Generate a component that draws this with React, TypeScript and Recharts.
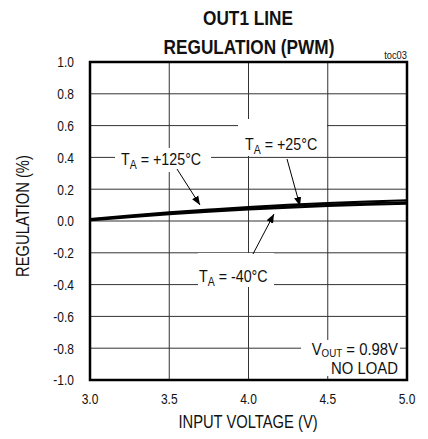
import { CartesianGrid, Line, LineChart, ReferenceArea, XAxis, YAxis } from "recharts";

// input voltage (V)
const voltage = [3.0, 3.25, 3.5, 3.75, 4.0, 4.25, 4.5, 4.75, 5.0];
// line regulation (%) per ambient temperature
const regPlus25 = [0.012, 0.035, 0.055, 0.072, 0.088, 0.102, 0.113, 0.122, 0.13];
const regPlus125 = [0.008, 0.03, 0.05, 0.066, 0.08, 0.093, 0.104, 0.112, 0.118];
const regMinus40 = [0.004, 0.024, 0.042, 0.058, 0.072, 0.084, 0.094, 0.102, 0.108];

const xTicks = [3.0, 3.5, 4.0, 4.5, 5.0];
const yTicks = [-1.0, -0.8, -0.6, -0.4, -0.2, 0.0, 0.2, 0.4, 0.6, 0.8, 1.0];

const data = voltage.map((v, i) => ({
  v,
  t25: regPlus25[i],
  t125: regPlus125[i],
  tm40: regMinus40[i],
}));

// no narrow font installed, so squeeze Liberation Sans horizontally
const FONT = '"Liberation Sans", Arial, sans-serif';
const W = 428;
const H = 439;

type NTextProps = {
  x: number;
  y: number;
  size: number;
  anchor?: "start" | "middle" | "end";
  weight?: string;
  sx?: number;
  rotate?: number;
  dy?: string;
  children: React.ReactNode;
};

function NText({ x, y, size, anchor = "start", weight, sx = 0.82, rotate, dy, children }: NTextProps) {
  const rot = rotate ? ` rotate(${rotate})` : "";
  return (
    <text
      transform={`translate(${x} ${y})${rot} scale(${sx} 1)`}
      fontSize={size}
      fontFamily={FONT}
      textAnchor={anchor}
      fontWeight={weight}
      fill="#111"
      dy={dy}
    >
      {children}
    </text>
  );
}

function XTick(props: any) {
  const { x, y, payload } = props;
  return (
    <NText x={x} y={y} size={15} anchor="middle" sx={0.8} dy="0.71em">
      {Number(payload.value).toFixed(1)}
    </NText>
  );
}

function YTick(props: any) {
  const { x, y, payload } = props;
  return (
    <NText x={x} y={y} size={15} anchor="end" sx={0.8} dy="0.355em">
      {Number(payload.value).toFixed(1)}
    </NText>
  );
}

function TempLabel({ x, y, temp }: { x: number; y: number; temp: string }) {
  return (
    <NText x={x} y={y} size={17} sx={0.84}>
      T<tspan fontSize={12.5} dy={4}>A</tspan>
      <tspan dy={-4}>{` = ${temp}°C`}</tspan>
    </NText>
  );
}

function Overlay() {
  return (
    <svg width={W} height={H} style={{ position: "absolute", left: 0, top: 0, pointerEvents: "none" }}>
      <defs>
        <marker id="head" viewBox="0 0 10 10" refX="10" refY="5" markerWidth="9" markerHeight="9" orient="auto">
          <path d="M0,1 L10,5 L0,9 z" fill="#000" />
        </marker>
      </defs>

      <NText x={248} y={25} size={21} anchor="middle" weight="bold">OUT1 LINE</NText>
      <NText x={249} y={54} size={21} anchor="middle" weight="bold">REGULATION (PWM)</NText>
      <NText x={407} y={59} size={11} anchor="end" sx={0.85}>toc03</NText>

      <NText x={248} y={428} size={18} anchor="middle">INPUT VOLTAGE (V)</NText>
      <NText x={29} y={216} size={18} anchor="middle" rotate={-90}>REGULATION (%)</NText>

      {/* white knockouts behind the callouts */}
      <rect x={115} y={148} width={96} height={24} fill="#fff" />
      <rect x={238} y={119} width={89} height={37} fill="#fff" />
      <rect x={198} y={253} width={76} height={34} fill="#fff" />
      <rect x={301} y={340} width={99} height={36} fill="#fff" />

      <TempLabel x={121} y={165} temp="+125" />
      <TempLabel x={245} y={150} temp="+25" />
      <TempLabel x={199} y={282} temp="-40" />

      <NText x={398} y={355} size={16} sx={0.93} anchor="end">
        V<tspan fontSize={10.5} dy={2}>OUT</tspan>
        <tspan dy={-2}> = 0.98V</tspan>
      </NText>
      <NText x={398} y={374} size={16} sx={0.93} anchor="end">NO LOAD</NText>

      <line x1={177} y1={169} x2={200} y2={205} stroke="#000" strokeWidth={1} markerEnd="url(#head)" />
      <line x1={287} y1={159} x2={300} y2={206} stroke="#000" strokeWidth={1} markerEnd="url(#head)" />
      <line x1={253} y1={254} x2={274} y2={214} stroke="#000" strokeWidth={1} markerEnd="url(#head)" />
    </svg>
  );
}

export default function App() {
  return (
    <div style={{ position: "absolute", left: 0, top: 0, width: W, height: H, background: "#fff" }}>
      <LineChart width={W} height={H} data={data} margin={{ top: 62, right: 21, bottom: 0, left: 0 }}>
        <CartesianGrid stroke="#333" strokeWidth={1} />
        <XAxis
          type="number"
          dataKey="v"
          domain={[3, 5]}
          ticks={xTicks}
          height={59}
          tickSize={0}
          tickMargin={13}
          axisLine={false}
          tick={<XTick />}
        />
        <YAxis
          type="number"
          domain={[-1, 1]}
          ticks={yTicks}
          width={90}
          tickSize={0}
          tickMargin={16}
          axisLine={false}
          tick={<YTick />}
        />
        <ReferenceArea x1={3} x2={5} y1={-1} y2={1} fill="none" stroke="#000" strokeWidth={2.5} />
        <Line type="monotone" dataKey="t25" stroke="#000" strokeWidth={2} dot={false} isAnimationActive={false} />
        <Line type="monotone" dataKey="t125" stroke="#000" strokeWidth={2} dot={false} isAnimationActive={false} />
        <Line type="monotone" dataKey="tm40" stroke="#000" strokeWidth={2} dot={false} isAnimationActive={false} />
      </LineChart>
      <Overlay />
    </div>
  );
}
